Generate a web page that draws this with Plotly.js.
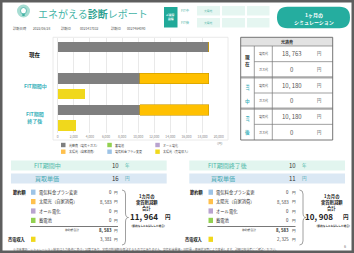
<!DOCTYPE html>
<html><head><meta charset="utf-8">
<script src="https://cdn.plot.ly/plotly-3.0.1.min.js"></script>
<style>html,body{margin:0;padding:0;background:#fff;}#c{width:354px;height:253px;}</style>
</head><body><div id="c"></div>
<script>
// ---------- DATA ----------
const groupLabels = ['現在', 'FIT期間中', 'FIT期間<br>終了後'];
const groupColors = ['#111111', '#3fb3bd', '#3fb3bd'];
const mainRows = [0, 2, 4];          // slot of main bar for each group
const sellRows = [3, 5];             // slot of 売電収入 bar (FIT中, FIT後)
const costElecGas = [18763, 10180, 10180];   // 光熱費（電気＋ガス）
const solarSelf = [0, 8583, 8583];           // 太陽光（自家消費）
const solarSell = [3381, 2325];              // 太陽光（売電収入）
const batteryVals = [0, 0, 0];
const allElecVals = [0, 0, 0];
const planVals = [0, 0, 0];
const xTicks = [0, 2000, 4000, 6000, 8000, 10000, 12000, 14000, 16000, 18000, 20000];

const legendNames = ['光熱費（電気＋ガス）', '蓄電池', 'オール電化', '太陽光（自家消費）', '電気料金プラン変更', '太陽光（売電収入）'];
const legendColors = ['#7f7f7f', '#92d050', '#b9a3cf', '#ffc04d', '#9dc3e6', '#f0d81c'];

const tableGroups = ['現在', 'FIT', 'FIT'];
const tableGroupSuffix = ['', '中', '後'];
const tableRowNames = ['電気代', 'ガス代'];
const tableElec = [18763, 10180, 10180];
const tableGas = [0, 0, 0];

const panelTitles = ['FIT期間中', 'FIT期間終了後'];
const fitYears = [10, 10];
const buyPrice = [16, 11];
const itemNames = ['電気料金プラン変更', '太陽光（自家消費）', 'オール電化', '蓄電池'];
const itemColors = ['#9dc3e6', '#ffc04d', '#b9a3cf', '#92d050'];
const planSave = [0, 0];
const selfSave = [8583, 8583];
const allElecSave = [0, 0];
const batterySave = [0, 0];
const sellIncome = [3381, 2325];

// ---------- HELPERS ----------
const W = 354, H = 253;
const FF = '"Noto Sans CJK JP", "Noto Sans", sans-serif';
const X = p => p / W, Y = p => 1 - p / H;
const shapes = [], anns = [];
function rect(x0, y0, x1, y1, fill, line, lw, layer) {
  shapes.push({type: 'rect', xref: 'paper', yref: 'paper', x0: X(x0), x1: X(x1), y0: Y(y1), y1: Y(y0),
    fillcolor: fill || 'rgba(0,0,0,0)', line: {color: line || 'rgba(0,0,0,0)', width: lw || 0}, layer: layer || 'above'});
}
function seg(x0, y0, x1, y1, color, w) {
  shapes.push({type: 'line', xref: 'paper', yref: 'paper', x0: X(x0), x1: X(x1), y0: Y(y0), y1: Y(y1), line: {color: color, width: w}});
}
function path(d, fill, color, w) {
  shapes.push({type: 'path', xref: 'paper', yref: 'paper', path: d, fillcolor: fill || 'rgba(0,0,0,0)', line: {color: color || 'rgba(0,0,0,0)', width: w || 0}});
}
const P = (x, y) => X(x) + ',' + Y(y);
function txt(x, y, text, size, color, anchor, bold, angle) {
  anns.push({xref: 'paper', yref: 'paper', x: X(x), y: Y(y), text: bold ? '<b>' + text + '</b>' : text, showarrow: false,
    font: {size: size, color: color, family: FF}, xanchor: anchor || 'center', yanchor: 'middle', borderpad: 0, textangle: angle || 0});
}
const fmt = v => v.toLocaleString('en-US').replace(/,/g, ', ');

// ---------- PAGE FRAME ----------
rect(0, 0, W, H, null, '#5e5e5e', 5);

// logo
shapes.push({type: 'circle', xref: 'paper', yref: 'paper', x0: X(17), x1: X(30), y0: Y(17.5), y1: Y(4.5), fillcolor: '#a7ddd3', line: {width: 0}});
shapes.push({type: 'circle', xref: 'paper', yref: 'paper', x0: X(20.5), x1: X(26.5), y0: Y(14), y1: Y(7.5), fillcolor: '#ffffff', line: {color: '#3fb0a3', width: 0.8}});
rect(22.3, 13.5, 24.7, 16, '#3fb0a3');
anns.push({xref: 'paper', yref: 'paper', x: X(37), y: Y(13.3), xanchor: 'left', yanchor: 'middle', showarrow: false, borderpad: 0,
  text: 'エネがえる<b><span style="color:#2d9f8f">診断</span></b>レポート', font: {size: 10, color: '#45b4a7', family: FF}});
// info line
txt(12, 28, '診断日時', 3.3, '#555', 'left');
txt(32, 28, '2022/06/28', 3.3, '#555', 'left');
txt(60, 28, '診断ID', 3.3, '#555', 'left');
txt(79, 28, '0021417032', 3.3, '#555', 'left');
txt(110, 28, '診断ID', 3.3, '#555', 'left');
txt(126, 28, '0027464090', 3.3, '#555', 'left');

// top middle block
rect(164, 7, 177.5, 27.5, '#21a999');
txt(170.7, 14.5, 'ご提案', 2.8, '#fff', 'center', true);
txt(170.7, 19, '設備', 2.8, '#fff', 'center', true);
txt(180, 10.8, 'FIT中', 3.3, '#3fb0a3', 'left');
txt(180, 22.7, 'FIT後', 3.3, '#3fb0a3', 'left');
[[197, 220], [222, 245], [247, 269.5]].forEach(c => {
  rect(c[0], 6, c[1], 15.5, '#e5f6f1');
  rect(c[0], 18, c[1], 27.5, '#e5f6f1');
});
txt(208.5, 10.8, '太陽光', 2.8, '#3fb0a3');
txt(208.5, 22.7, '太陽光', 2.8, '#3fb0a3');

// button
(function () {
  const x0 = 277, x1 = 350, y0 = 6.8, y1 = 28.3, r = 10.5;
  const d = 'M' + P(x0 + r, y0) + ' L' + P(x1 - r, y0) + ' Q' + P(x1, y0) + ' ' + P(x1, (y0 + y1) / 2) + ' Q' + P(x1, y1) + ' ' + P(x1 - r, y1) +
    ' L' + P(x0 + r, y1) + ' Q' + P(x0, y1) + ' ' + P(x0, (y0 + y1) / 2) + ' Q' + P(x0, y0) + ' ' + P(x0 + r, y0) + ' Z';
  path(d, '#25ad9f');
})();
txt(313.5, 14.8, '1ヶ月の', 5, '#fff', 'center', true);
txt(313.5, 21.6, 'シミュレーション', 5, '#fff', 'center', true);

// chart box
rect(53, 37.3, 228, 140, null, '#e4e4e4', 0.8, 'below');

// y group labels (from categories)
groupLabels.forEach((g, i) => {
  anns.push({xref: 'paper', yref: 'y', x: X(35), y: mainRows[i] + 0.5, text: '<b>' + g + '</b>', showarrow: false,
    font: {size: i === 0 ? 5.5 : 5, color: groupColors[i], family: FF}, xanchor: 'center', yanchor: 'middle', borderpad: 0});
});
txt(220, 143, '（円）', 3.2, '#888', 'center');

// custom legend
const legX = [61, 107.3, 155.3], legY = [145, 151.7];
legendNames.forEach((n, i) => {
  const cx = legX[i % 3], cy = legY[Math.floor(i / 3)];
  rect(cx, cy - 2.2, cx + 4.5, cy + 2.2, legendColors[i]);
  txt(cx + 6.5, cy, n, 3, '#444', 'left');
});

// ---------- TABLE ----------
const tx0 = 240.7, tx1 = 332.7, ty0 = 37.3, th = 46, rh = 15.67;
rect(tx0, ty0, tx1, th, '#e2e2e2');
txt((tx0 + tx1) / 2, (ty0 + th) / 2, '光熱費', 4, '#333', 'center', true);
for (let g = 0; g < 3; g++) {
  const gy = th + g * 2 * rh;
  for (let r = 0; r < 2; r++) {
    const cy = gy + rh * (r + 0.5);
    txt(263.3, cy, tableRowNames[r], 3, '#444');
    const v = r === 0 ? tableElec[g] : tableGas[g];
    txt(291.7, cy, fmt(v), 6, '#555');
    txt(319.3, cy, '円', 4.3, '#555');
  }
  seg(254.3, gy + rh, tx1, gy + rh, '#777', 0.7);
  if (g > 0) seg(tx0, gy, tx1, gy, '#a8a8a8', 2.2);
  if (g === 0) {
    txt(247.5, gy + rh - 4, '現', 4.6, '#222', 'center', true);
    txt(247.5, gy + rh + 2, '在', 4.6, '#222', 'center', true);
  } else {
    txt(247.5, gy + rh - 5, tableGroups[g], 4, '#3fb3bd', 'center', true, 90);
    txt(247.5, gy + 2 * rh - 7.5, tableGroupSuffix[g], 4.6, '#3fb3bd', 'center', true);
  }
}
seg(254.3, th, 254.3, 140, '#777', 0.7);
seg(272.3, th, 272.3, 140, '#777', 0.7);
seg(tx0, th, tx1, th, '#777', 0.7);
rect(tx0, ty0, tx1, 140, null, '#666', 0.9);

// ---------- BOTTOM PANELS ----------
const offs = [0, 177.5];
const textBlockX = [146.7, 331.5], numX = [144.2, 319], yenX = [168.3, 345.7];
for (let p = 0; p < 2; p++) {
  const o = offs[p];
  const bx0 = p === 0 ? 11 : 189.3, bx1 = p === 0 ? 166.7 : 345;
  rect(bx0, 160.5, bx1, 170.5, '#e2f5ef');
  rect(bx0, 173.5, bx1, 183.5, '#dbe8f4');
  txt(p === 0 ? 47 : 227.5, 165.5, panelTitles[p], 6, '#4db8a8');
  txt(p === 0 ? 47 : 223, 178.5, '買取単価', 6, '#47a8b3');
  txt(115.3 + (p === 0 ? 0 : 177), 165.5, String(fitYears[p]), 6, '#333');
  txt(127.5 + (p === 0 ? 0 : 176.5), 165.5, '年', 4.5, '#4db8a8');
  txt(115.3 + (p === 0 ? 0 : 177), 178.5, String(buyPrice[p]), 6, '#333');
  txt(127.5 + (p === 0 ? 0 : 176.5), 178.5, '円', 4.5, '#47a8b3');

  txt(11.7 + o, 192, '節約額', 4.2, '#111', 'left', true);
  const vals = [planSave[p], selfSave[p], allElecSave[p], batterySave[p]];
  const rowsY = [192.2, 201.6, 211, 220.4];
  vals.forEach((v, i) => {
    rect(31 + o, rowsY[i] - 2.6, 35.5 + o, rowsY[i] + 2.6, itemColors[i]);
    txt(37.7 + o, rowsY[i], itemNames[i], 4.3, '#333', 'left');
    txt(112.5 + o, rowsY[i], fmt(v), 4.3, '#333', 'right');
    txt(116.3 + o, rowsY[i], '円', 3.6, '#333');
  });
  seg(30 + o, 226.5, 118 + o, 226.5, '#555', 0.8);
  const saveTotal = vals.reduce((a, b) => a + b, 0);
  txt(71.7 + o, 230.3, '節約額合計', 2.8, '#444');
  txt(112.5 + o, 230.3, fmt(saveTotal), 4.3, '#333', 'right', true);
  txt(116.3 + o, 230.3, '円', 3.6, '#333');
  txt(16.7 + o, 239.3, '売電収入', 4.2, '#111', 'center', true);
  rect(31 + o, 236.7, 35.5 + o, 241.9, '#f0d81c');
  txt(112.5 + o, 239.3, fmt(sellIncome[p]), 4.3, '#333', 'right');
  txt(116.3 + o, 239.3, '円', 3.6, '#333');

  // brace
  const bx = 122 + o;
  path('M' + P(bx, 190) + ' Q' + P(bx + 3.5, 190) + ' ' + P(bx + 3.5, 194) + ' L' + P(bx + 3.5, 213) + ' Q' + P(bx + 3.5, 217.5) + ' ' + P(bx + 6.5, 217.5) +
    ' Q' + P(bx + 3.5, 217.5) + ' ' + P(bx + 3.5, 222) + ' L' + P(bx + 3.5, 241) + ' Q' + P(bx + 3.5, 245) + ' ' + P(bx, 245), null, '#888', 0.8);

  const monthTotal = saveTotal + sellIncome[p];
  txt(textBlockX[p], 196.7, '1カ月の', 4.3, '#222', 'center', true);
  txt(textBlockX[p], 202.5, '実質削減額', 4.3, '#222', 'center', true);
  txt(textBlockX[p], 208.3, '合計', 4.3, '#222', 'center', true);
  txt(numX[p], 216.7, fmt(monthTotal), 8, '#222', 'center', true);
  txt(yenX[p], 216.7, '円', 5.5, '#222', 'center', true);
  txt(textBlockX[p] + 1, 225.5, '（節約なしとお試しした場合）', 2.6, '#333', 'center', true);
}

// footnote
txt(12, 249.6, '※注意事項：シミュレーション結果は入力条件に基づく試算であり、実際の削減額を保証するものではありません。電気料金単価・日射量・使用状況等により変動します。詳細は担当者にご確認ください。', 2.9, '#666', 'left');
txt(345, 246, '6', 3.8, '#777');

// ---------- TRACES ----------
const BW = 0.67;
const traces = [
  {type: 'bar', orientation: 'h', name: legendNames[0], y: mainRows, x: costElecGas, width: BW, marker: {color: legendColors[0]}},
  {type: 'bar', orientation: 'h', name: legendNames[3], y: mainRows, x: solarSelf, width: BW, marker: {color: '#ffc000', line: {color: '#c99a00', width: 0.6}}},
  {type: 'bar', orientation: 'h', name: legendNames[1], y: mainRows, x: batteryVals, width: BW, marker: {color: legendColors[1]}},
  {type: 'bar', orientation: 'h', name: legendNames[2], y: mainRows, x: allElecVals, width: BW, marker: {color: legendColors[2]}},
  {type: 'bar', orientation: 'h', name: legendNames[4], y: mainRows, x: planVals, width: BW, marker: {color: legendColors[4]}},
  {type: 'bar', orientation: 'h', name: legendNames[5], y: sellRows, x: solarSell, width: BW, marker: {color: '#f0d81c'}}
];

const layout = {
  width: W, height: H, margin: {l: 0, r: 0, t: 0, b: 0}, paper_bgcolor: '#fff', plot_bgcolor: 'rgba(0,0,0,0)',
  barmode: 'stack', showlegend: false, hovermode: false,
  font: {family: FF},
  xaxis: {domain: [X(57.7), X(218.7)], range: [0, 20000], tickvals: xTicks, tickformat: ',d', showgrid: true, gridcolor: '#e3e3e3', gridwidth: 0.8,
    zeroline: true, zerolinecolor: '#e3e3e3', zerolinewidth: 0.8, showline: false, ticks: '', tickfont: {size: 3.3, color: '#888', family: FF}, fixedrange: true},
  yaxis: {domain: [Y(133.3), Y(37.7)], range: [5.5, -0.6], showticklabels: false, showgrid: false, zeroline: false, showline: false, ticks: '', fixedrange: true},
  shapes: shapes, annotations: anns
};
Plotly.newPlot('c', traces, layout, {staticPlot: true, displayModeBar: false});
</script></body></html>
